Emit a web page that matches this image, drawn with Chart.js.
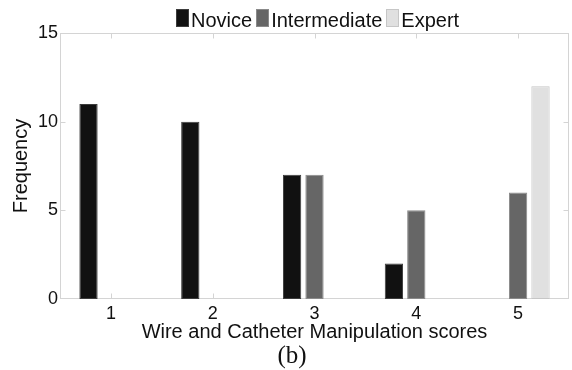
<!DOCTYPE html>
<html>
<head>
<meta charset="utf-8">
<script src="https://cdn.jsdelivr.net/npm/chart.js@4.4.1/dist/chart.umd.min.js"></script>
<style>
  html, body { margin: 0; padding: 0; background: #fff; }
  #wrap { position: relative; width: 572px; height: 370px; overflow: hidden; }
  #c { position: absolute; left: 0; top: 0; }
  #legend { position: absolute; left: 176px; top: 9px; display: flex; align-items: flex-start; height: 18px;
            font-family: "Liberation Sans", Arial, Helvetica, sans-serif; font-size: 20px; color: #111; }
  #legend .sw { width: 13px; height: 18px; box-sizing: border-box; border: 1px solid; flex: none; }
  #legend .tx { line-height: 18px; margin-left: 2px; margin-right: 4px; position: relative; top: 1.5px; white-space: nowrap; }
  #sub { position: absolute; left: 192px; width: 200px; top: 342px; text-align: center;
         font-family: "Liberation Serif", "Times New Roman", serif; font-size: 25px; line-height: 25px; color: #111; }
</style>
</head>
<body>
<div id="wrap">
  <canvas id="c" width="572" height="370"></canvas>
  <div id="legend"></div>
  <div id="sub">(b)</div>
</div>
<script>
const categories = ['1', '2', '3', '4', '5'];
const seriesNames = ['Novice', 'Intermediate', 'Expert'];
const novice = [11, 10, 7, 2, 0];
const intermediate = [0, 0, 7, 5, 6];
const expert = [0, 0, 0, 0, 12];
const yTicks = [0, 5, 10, 15];
const xTitle = 'Wire and Catheter Manipulation scores';
const yTitle = 'Frequency';

const fills = ['#111111', '#666666', '#e0e0e0'];
const borders = ['#3c3c3c', '#8a8a8a', '#c6c6c6'];
const seriesData = [novice, intermediate, expert];

const FONT = '"Liberation Sans", Arial, Helvetica, sans-serif';

const framePlugin = {
  id: 'frame',
  beforeDatasetsDraw(chart) {
    const { ctx, chartArea: { left, right, top, bottom }, scales: { x, y } } = chart;
    const L = Math.round(left) + 0.5, R = Math.round(right) - 0.5;
    const T = Math.round(top) + 0.5, B = Math.round(bottom) - 0.5;
    ctx.save();
    ctx.strokeStyle = '#d4d4d4';
    ctx.lineWidth = 1;
    ctx.strokeRect(L, T, R - L, B - T);
    const tl = 5;
    ctx.beginPath();
    x.ticks.forEach((t, i) => {
      const px = Math.round(x.getPixelForTick(i)) + 0.5;
      ctx.moveTo(px, B); ctx.lineTo(px, B - tl);
      ctx.moveTo(px, T); ctx.lineTo(px, T + tl);
    });
    y.ticks.forEach((t, i) => {
      if (t.value === y.min || t.value === y.max) return;
      const py = Math.round(y.getPixelForValue(t.value)) + 0.5;
      ctx.moveTo(L, py); ctx.lineTo(L + tl, py);
      ctx.moveTo(R, py); ctx.lineTo(R - tl, py);
    });
    ctx.stroke();
    ctx.restore();
  }
};

const chart = new Chart(document.getElementById('c'), {
  type: 'bar',
  data: {
    labels: categories,
    datasets: seriesNames.map((name, i) => ({
      label: name,
      data: seriesData[i],
      backgroundColor: fills[i],
      borderColor: borders[i],
      borderWidth: 1,
      borderSkipped: false,
      categoryPercentage: 0.66,
      barPercentage: 0.817
    }))
  },
  options: {
    responsive: false,
    animation: false,
    devicePixelRatio: 1,
    layout: { padding: { top: 33, right: 3, left: 0, bottom: 0 } },
    plugins: { legend: { display: false }, tooltip: { enabled: false }, title: { display: false } },
    scales: {
      x: {
        type: 'category',
        offset: true,
        grid: { display: false, drawTicks: false },
        border: { display: false },
        ticks: { color: '#111', font: { family: FONT, size: 18 }, padding: 4 },
        title: { display: true, text: xTitle, color: '#111', font: { family: FONT, size: 20 }, padding: { top: 0, bottom: 26 } },
        afterFit(scale) { scale.height = 71; }
      },
      y: {
        min: 0, max: 15,
        afterBuildTicks(scale) { scale.ticks = yTicks.map(v => ({ value: v })); },
        grid: { display: false, drawTicks: false },
        border: { display: false },
        ticks: { color: '#111', font: { family: FONT, size: 18 }, padding: 2 },
        title: { display: true, text: yTitle, color: '#111', font: { family: FONT, size: 20 }, padding: { top: 9, bottom: 0 } },
        afterFit(scale) { scale.width = 60; }
      }
    }
  },
  plugins: [framePlugin]
});

// HTML legend built from datasets
const leg = document.getElementById('legend');
chart.data.datasets.forEach(ds => {
  const sw = document.createElement('span');
  sw.className = 'sw';
  sw.style.background = ds.backgroundColor;
  sw.style.borderColor = ds.borderColor;
  const tx = document.createElement('span');
  tx.className = 'tx';
  tx.textContent = ds.label;
  leg.appendChild(sw);
  leg.appendChild(tx);
});
</script>
</body>
</html>
